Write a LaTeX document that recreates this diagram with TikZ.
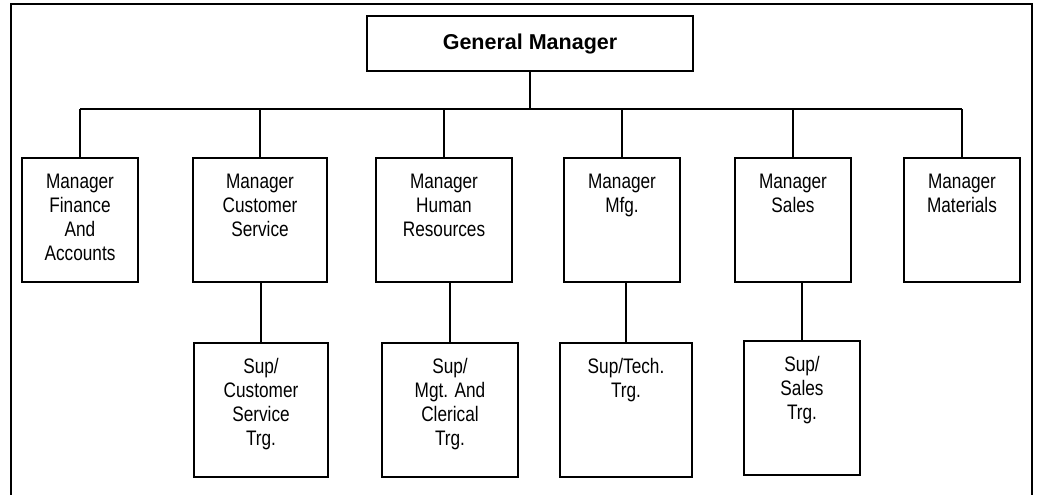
\documentclass[tikz,border=0pt]{standalone}
\usepackage{fontspec}
\setmainfont{Liberation Sans}[FakeStretch=0.82]
\newfontfamily\headfont{Liberation Sans}
\begin{document}
\begin{tikzpicture}[x=1pt,y=-1pt,line width=2pt,
  box/.style={draw,rectangle,inner sep=0pt},
  lbl/.style={anchor=north,yshift=-16pt,inner sep=0pt,align=center,
    font=\fontsize{21}{24}\selectfont},
  link/.style={line width=2pt}]
% page area
\clip (0,0) rectangle (1037,495);
% outer frame, open at the bottom
\draw[line width=2pt] (11,510) -- (11,4) -- (1032,4) -- (1032,510);

% top of the chart
\node[box,minimum width=326pt,minimum height=55pt,
  font=\headfont\bfseries\fontsize{21.5}{24}\selectfont] (gm) at (530,44) {General Manager};

% managers
\node[box,minimum width=116pt,minimum height=124pt,
  label={[lbl]north:{Manager\\Finance\\And\\Accounts}}] (fin) at (80,220) {};
\node[box,minimum width=134pt,minimum height=124pt,
  label={[lbl]north:{Manager\\Customer\\Service}}] (cs) at (260,220) {};
\node[box,minimum width=136pt,minimum height=124pt,
  label={[lbl]north:{Manager\\Human\\Resources}}] (hr) at (444,220) {};
\node[box,minimum width=116pt,minimum height=124pt,
  label={[lbl]north:{Manager\\Mfg.}}] (mfg) at (622,220) {};
\node[box,minimum width=116pt,minimum height=124pt,
  label={[lbl]north:{Manager\\Sales}}] (sal) at (793,220) {};
\node[box,minimum width=116pt,minimum height=124pt,
  label={[lbl]north:{Manager\\Materials}}] (mat) at (962,220) {};

% training supervisors
\node[box,minimum width=134pt,minimum height=134pt,
  label={[lbl,yshift=1pt]north:{Sup/\\Customer\\Service\\Trg.}}] (cst) at (261,410) {};
\node[box,minimum width=136pt,minimum height=134pt,
  label={[lbl,yshift=1pt]north:{Sup/\\Mgt. And\\Clerical\\Trg.}}] (hrt) at (450,410) {};
\node[box,minimum width=132pt,minimum height=134pt,
  label={[lbl,yshift=1pt]north:{Sup/Tech.\\Trg.}}] (mfgt) at (626,410) {};
\node[box,minimum width=116pt,minimum height=134pt,
  label={[lbl,yshift=1pt]north:{Sup/\\Sales\\Trg.}}] (salt) at (802,408) {};

% bus line under the general manager
\coordinate (busL) at (80,109);
\coordinate (busR) at (962,109);
\draw[link] (gm.south) -- (gm.south |- busL);
\draw[link] (busL) -- (busR);
\foreach \m in {fin,cs,hr,mfg,sal,mat}
  \draw[link] (\m.north) -- (\m.north |- busL);

% manager to supervisor links
\draw[link] (cst.north) -- (cst.north |- cs.south);
\draw[link] (hrt.north) -- (hrt.north |- hr.south);
\draw[link] (mfgt.north) -- (mfgt.north |- mfg.south);
\draw[link] (salt.north) -- (salt.north |- sal.south);
\end{tikzpicture}
\end{document}
